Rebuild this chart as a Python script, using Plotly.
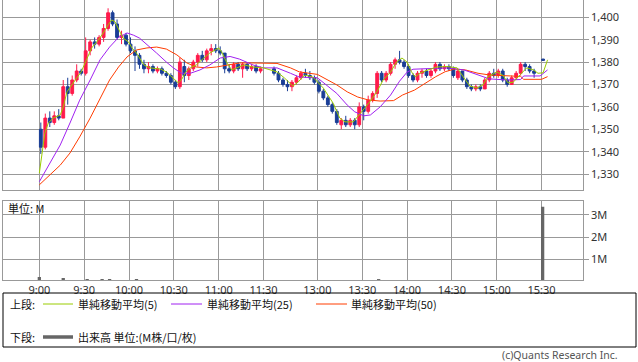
import plotly.graph_objects as go

# ---------------- data ----------------
# session minute index (9:00 = 0, lunch compressed: 12:30 = 156)
tick_min = [0, 30, 60, 90, 120, 150, 186, 216, 246, 276, 306, 336]
tick_lbl = ["9:00", "9:30", "10:00", "10:30", "11:00", "11:30",
            "13:00", "13:30", "14:00", "14:30", "15:00", "15:30"]

cdl_t = [0, 3, 6, 9, 12, 15, 18, 21, 24, 27, 30, 33, 36, 39, 42, 45, 48, 51, 54, 57,
         60, 63, 66, 69, 72, 75, 78, 81, 84, 87, 90, 93, 96, 99, 102, 105, 108, 111, 114, 117,
         120, 123, 126, 129, 132, 135, 138, 141, 144, 147,
         156, 159, 162, 165, 168, 171, 174, 177, 180, 183, 186, 189, 192, 195, 198, 201, 204, 207, 210, 213,
         216, 219, 222, 225, 228, 231, 234, 237, 240, 243, 246, 249, 252, 255, 258, 261, 264, 267, 270, 273,
         276, 279, 282, 285, 288, 291, 294, 297, 300, 303, 306, 309, 312, 315, 318, 321, 324, 327, 330, 336]
opens = [1350, 1342, 1355, 1353, 1356, 1355, 1369, 1366, 1372, 1376, 1375, 1385, 1389, 1388, 1391, 1395, 1402, 1397, 1391, 1392,
         1388, 1385, 1383, 1379, 1377, 1378, 1376, 1377, 1375, 1374, 1371, 1369, 1378, 1374, 1377, 1380, 1383, 1381, 1385, 1386,
         1385, 1384, 1377, 1376, 1379, 1377, 1379, 1377, 1378, 1376,
         1377, 1375, 1372, 1370, 1369, 1371, 1373, 1375, 1374, 1373, 1371, 1367, 1364, 1361, 1358, 1352, 1354, 1352, 1354, 1352,
         1360, 1358, 1363, 1366, 1375, 1372, 1375, 1379, 1381, 1380, 1378, 1374, 1372, 1375, 1376, 1374, 1376, 1379, 1377, 1378,
         1377, 1373, 1376, 1372, 1369, 1368, 1369, 1368, 1372, 1375, 1374, 1376, 1372, 1370, 1373, 1375, 1379, 1378, 1376, 1381.3]
highs = [1353, 1357, 1358, 1358, 1359, 1372, 1373, 1374, 1379, 1377, 1391, 1390, 1391, 1392, 1397, 1404, 1403, 1399, 1394, 1393,
         1391, 1387, 1384, 1381, 1380, 1379, 1378, 1378, 1376, 1375, 1372, 1382, 1381, 1378, 1381, 1384, 1385, 1386, 1388, 1388,
         1387, 1384, 1379, 1380, 1380, 1380, 1380, 1379, 1379, 1378,
         1378, 1376, 1373, 1372, 1372, 1374, 1376, 1377, 1376, 1374, 1372, 1368, 1365, 1362, 1359, 1355, 1356, 1355, 1355, 1362,
         1361, 1365, 1367, 1376, 1376, 1376, 1380, 1382, 1385, 1381, 1379, 1375, 1376, 1377, 1377, 1377, 1380, 1380, 1379, 1379,
         1378, 1377, 1376, 1373, 1370, 1370, 1370, 1373, 1376, 1377, 1377, 1377, 1373, 1374, 1376, 1380, 1380, 1379, 1377, 1381.5]
lows = [1339, 1341, 1351, 1352, 1354, 1355, 1361, 1365, 1371, 1374, 1374, 1383, 1386, 1387, 1389, 1394, 1396, 1390, 1388, 1387,
        1384, 1376, 1377, 1375, 1375, 1375, 1375, 1374, 1373, 1370, 1368, 1368, 1371, 1372, 1376, 1378, 1380, 1380, 1383, 1384,
        1383, 1375, 1375, 1375, 1376, 1373, 1376, 1376, 1375, 1375,
        1374, 1371, 1369, 1367, 1367, 1370, 1372, 1373, 1372, 1370, 1366, 1363, 1360, 1357, 1352, 1350, 1351, 1351, 1350, 1351,
        1354, 1357, 1362, 1364, 1371, 1371, 1374, 1377, 1379, 1377, 1373, 1371, 1371, 1373, 1373, 1373, 1375, 1376, 1376, 1376,
        1373, 1372, 1371, 1368, 1367, 1367, 1367, 1368, 1371, 1373, 1373, 1371, 1369, 1370, 1372, 1374, 1376, 1375, 1373, 1380.6]
closes = [1342, 1355, 1353, 1356, 1355, 1369, 1366, 1372, 1376, 1375, 1385, 1389, 1388, 1391, 1395, 1402, 1397, 1391, 1392, 1388,
          1385, 1383, 1379, 1377, 1378, 1376, 1377, 1375, 1374, 1371, 1369, 1380, 1374, 1377, 1380, 1383, 1381, 1385, 1386, 1385,
          1384, 1377, 1376, 1379, 1377, 1379, 1377, 1378, 1376, 1377,
          1375, 1372, 1370, 1369, 1371, 1373, 1375, 1374, 1373, 1371, 1367, 1364, 1361, 1358, 1353, 1354, 1352, 1354, 1352, 1360,
          1358, 1363, 1366, 1375, 1372, 1375, 1379, 1381, 1380, 1378, 1374, 1372, 1375, 1376, 1374, 1376, 1379, 1377, 1378, 1377,
          1374, 1376, 1372, 1369, 1368, 1369, 1368, 1372, 1375, 1374, 1376, 1372, 1370, 1373, 1375, 1379, 1378, 1376, 1375, 1380.8]

ma5_t = [0, 1.5, 3.7, 6, 9.3, 14, 16, 18.5, 21.5, 25, 28, 31.7, 35, 39.5, 42.8, 46, 48.4, 50.6, 54, 56,
         59.6, 62, 65, 67, 70, 74, 81, 85, 89.7, 93, 95, 98, 101, 105, 110, 114, 120, 122, 125.5, 128.7,
         132, 137, 143, 150, 159, 164, 169.6, 173, 177.5, 183, 190, 196.5, 201, 204.5, 210, 213, 216.6, 221, 225.8, 230,
         235, 239, 242.6, 246, 249, 251.5, 254.5, 260, 266, 272.7, 279.5, 283.6, 288, 292.8, 296.8, 300, 306, 310, 313.6, 317,
         321.5, 326, 330.6, 333.6, 337, 340]
ma5_v = [1330.4, 1337.6, 1348.3, 1352.8, 1355, 1356.4, 1360, 1366.7, 1369.8, 1372.9, 1375.6, 1381, 1386.3, 1389.9, 1393, 1396.6, 1398.8, 1398, 1393.5, 1390.7,
         1389, 1386.3, 1384, 1381.8, 1378.7, 1377.4, 1376.9, 1375.6, 1372.9, 1370.7, 1372, 1375.6, 1377.4, 1378.7, 1381.8, 1384, 1386.3, 1384.5, 1379.6, 1376.5,
         1377.4, 1378.7, 1377.8, 1377.4, 1375.6, 1372.9, 1369.3, 1371, 1374.2, 1373.3, 1368.4, 1361.7, 1355, 1353.3, 1353.3, 1355.5, 1358.6, 1362.2, 1366.7, 1372,
         1375.6, 1380, 1381.8, 1380, 1375.6, 1373.4, 1375, 1376.5, 1377.8, 1378, 1377.4, 1373.4, 1369.3, 1368.4, 1369.8, 1373.4, 1375.6, 1374.2, 1370.7, 1371,
         1374.2, 1377.4, 1376.5, 1375, 1375.2, 1381]

ma25_t = [0, 7, 14, 20.5, 27, 34, 40.6, 47, 53, 58.7, 63, 67, 72, 78.5, 85, 89.7, 95, 101, 107.5, 114,
          121, 127.6, 134, 143, 150, 159, 168, 174, 186, 192, 199, 206, 211, 217, 221.5, 228, 235, 241, 246, 250,
          259, 273, 284, 290, 296, 301, 313, 322, 324, 335, 340]
ma25_v = [1326.6, 1335, 1343, 1352.8, 1363, 1372, 1381, 1386.7, 1391, 1393, 1392, 1390.7, 1387.6, 1384, 1380, 1377.4, 1375, 1375, 1376.5, 1378.7,
          1381.8, 1382.5, 1381.3, 1378.7, 1377.4, 1377.4, 1375, 1373.3, 1373, 1369.8, 1366, 1360.8, 1357.8, 1356, 1356.4, 1360, 1365.3, 1371.5, 1375.5, 1376.8,
          1377, 1377.4, 1376.5, 1375, 1373.6, 1372.5, 1372, 1372.2, 1373.8, 1373.8, 1376.5]

ma50_t = [0, 7, 14, 20.5, 27, 34, 40.6, 47, 53, 58.7, 65, 72, 78.5, 85, 92, 98.7, 105, 112, 118.5, 125,
          134, 143, 152, 159, 168, 174, 186, 192, 199, 206, 213, 220, 228, 237, 243, 251, 259, 265, 271.5, 278,
          285, 293.5, 301.5, 313, 322, 324, 336, 340]
ma50_v = [1325.2, 1329.6, 1334, 1339.4, 1346.6, 1355, 1364, 1372, 1377.8, 1382.3, 1385.4, 1386.3, 1386.7, 1385.8, 1383.2, 1379.6, 1377.8, 1377.4, 1377.8, 1378.7,
          1379.6, 1379.6, 1379.6, 1379.4, 1377.4, 1375.6, 1374.5, 1372.5, 1369.8, 1366.7, 1364.4, 1363.1, 1362.6, 1362.8, 1365.3, 1367.5, 1371, 1373.4, 1375.7, 1376.9,
          1376.5, 1375, 1374.2, 1373.8, 1373.6, 1372.3, 1372.3, 1373.5]

vol_t = [0, 16, 32, 42, 47, 65, 227, 336.7]
vol_v = [0.2, 0.16, 0.11, 0.11, 0.11, 0.11, 0.11, 3.37]

# ---------------- styling ----------------
W, H = 638, 362
UP, DN = "#ff1a4b", "#1a3e96"
C5, C25, C50 = "#99cc00", "#a020f0", "#ff3c00"
GRID = "#999999"
CJK = "Noto Sans CJK JP"
LAT = "Noto Sans"


def px(x):
    return x / W


def py(y):
    return 1 - y / H


fig = go.Figure()
fig.add_trace(go.Candlestick(
    x=[t + 1 for t in cdl_t], open=opens, high=highs, low=lows, close=closes,
    increasing=dict(line=dict(color=UP, width=1), fillcolor=UP),
    decreasing=dict(line=dict(color=DN, width=1), fillcolor=DN),
    whiskerwidth=0, xaxis="x", yaxis="y", hoverinfo="skip"))
for tt, vv, cc in [(ma50_t, ma50_v, C50), (ma25_t, ma25_v, C25), (ma5_t, ma5_v, C5)]:
    fig.add_trace(go.Scatter(x=tt, y=vv, mode="lines", line=dict(color=cc, width=1),
                             xaxis="x", yaxis="y", hoverinfo="skip"))
fig.add_trace(go.Bar(x=vol_t, y=vol_v, marker=dict(color="#666666", line=dict(width=0)),
                     width=2.2, xaxis="x2", yaxis="y2", hoverinfo="skip"))

xr = [-24.1, 363.5]
xdom = [px(3.3), px(582.7)]
tickfont = dict(family=LAT, size=11, color="#333333")
axcommon = dict(showgrid=True, gridcolor=GRID, gridwidth=1, showline=True, linecolor=GRID,
                linewidth=1, mirror=True, zeroline=False, tickfont=tickfont)

fig.update_layout(
    width=W, height=H, margin=dict(l=0, r=0, t=0, b=0),
    paper_bgcolor="white", plot_bgcolor="white", showlegend=False,
    font=dict(family=CJK, size=11, color="#333333"),
    boxgap=0.1,
    xaxis=dict(domain=xdom, range=xr, anchor="y", tickvals=tick_min, showticklabels=False,
               ticks="", rangeslider=dict(visible=False), **axcommon),
    yaxis=dict(domain=[py(190), py(0)], range=[1322.9, 1407.7], anchor="x", side="right",
               tickvals=[1330, 1340, 1350, 1360, 1370, 1380, 1390, 1400], tickformat=",d",
               ticks="outside", ticklen=5, tickcolor=GRID, **axcommon),
    xaxis2=dict(domain=xdom, range=xr, anchor="y2", tickvals=tick_min, ticktext=tick_lbl,
                ticks="", **axcommon),
    yaxis2=dict(domain=[py(280), py(201)], range=[0.068, 3.63], anchor="x2", side="right",
                tickvals=[1, 2, 3], ticktext=["1M", "2M", "3M"],
                ticks="outside", ticklen=5, tickcolor=GRID, **axcommon),
)

# legend box
shapes = [dict(type="rect", xref="paper", yref="paper", x0=px(3), x1=px(636), y0=py(347), y1=py(293),
               line=dict(color="black", width=1))]
for x0, x1, c, w, yy in [(43, 73, C5, 1, 304), (171, 202, C25, 1, 304), (316, 347, C50, 1, 304),
                         (43, 73, "#666666", 3.5, 337)]:
    shapes.append(dict(type="line", xref="paper", yref="paper", x0=px(x0), x1=px(x1), y0=py(yy), y1=py(yy),
                       line=dict(color=c, width=w)))
fig.update_layout(shapes=shapes)

ann = [
    ("上段:", 9, 304), ("単純移動平均(5)", 77, 304), ("単純移動平均(25)", 206, 304), ("単純移動平均(50)", 350, 304),
    ("下段:", 9, 337), ("出来高 単位:(M株/口/枚)", 77, 337), ("単位: M", 7, 208),
]
annotations = [dict(text=t, x=px(x), y=py(y), xref="paper", yref="paper", xanchor="left", yanchor="middle",
                    showarrow=False, borderpad=0, font=dict(family=CJK, size=11, color="#111111"))
               for t, x, y in ann]
annotations.append(dict(text="(c)Quants Research Inc.", x=px(619), y=py(354.5), xref="paper", yref="paper",
                        xanchor="right", yanchor="middle", showarrow=False, borderpad=0,
                        font=dict(family=LAT, size=10.5, color="#555555")))
fig.update_layout(annotations=annotations)

fig.write_html("out.html", config={"displayModeBar": False},
               post_script="document.body.style.margin='0';document.body.style.padding='0';")
